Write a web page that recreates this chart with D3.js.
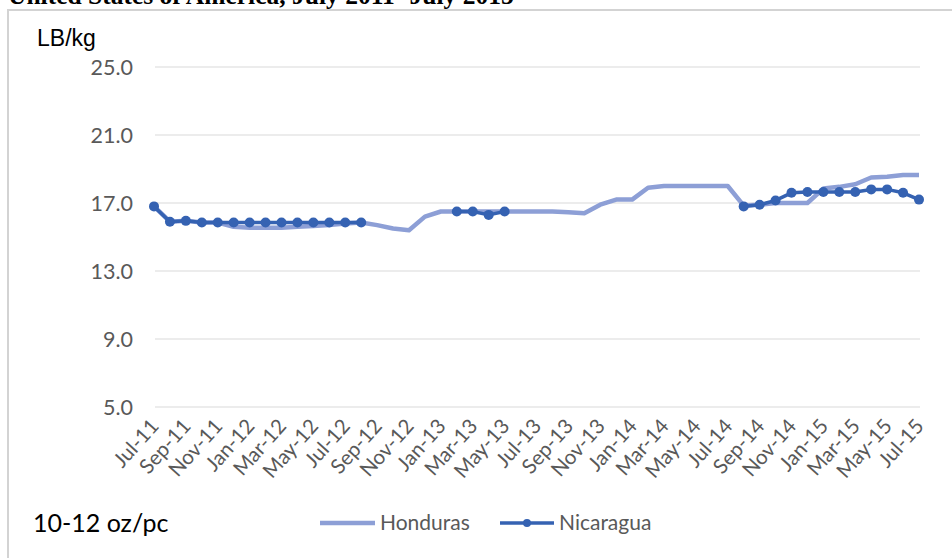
<!DOCTYPE html>
<html lang="en">
<head>
    <meta charset="UTF-8">
    <title>LB/kg 10-12 oz/pc</title>
    <script src="https://d3js.org/d3.v7.min.js"></script>
    <style>
        body {
            margin: 0;
            padding: 0;
            background-color: #fff;
        }
        svg {
            display: block;
        }
    </style>
</head>
<body>
    <svg id="chart" width="952" height="558"></svg>

    <script>
        // Months, Jul-11 .. Jul-15
        const months = [
            'Jul-11', 'Aug-11', 'Sep-11', 'Oct-11', 'Nov-11', 'Dec-11',
            'Jan-12', 'Feb-12', 'Mar-12', 'Apr-12', 'May-12', 'Jun-12',
            'Jul-12', 'Aug-12', 'Sep-12', 'Oct-12', 'Nov-12', 'Dec-12',
            'Jan-13', 'Feb-13', 'Mar-13', 'Apr-13', 'May-13', 'Jun-13',
            'Jul-13', 'Aug-13', 'Sep-13', 'Oct-13', 'Nov-13', 'Dec-13',
            'Jan-14', 'Feb-14', 'Mar-14', 'Apr-14', 'May-14', 'Jun-14',
            'Jul-14', 'Aug-14', 'Sep-14', 'Oct-14', 'Nov-14', 'Dec-14',
            'Jan-15', 'Feb-15', 'Mar-15', 'Apr-15', 'May-15', 'Jun-15',
            'Jul-15'
        ];

        const honduras = [
            16.8, 15.9, 15.95, 15.85, 15.85, 15.6, 15.55, 15.55, 15.55, 15.6, 15.65, 15.7, 15.8, 15.85,
            15.7, 15.5, 15.4, 16.2, 16.5,
            16.5, 16.5, 16.5, 16.5, 16.5, 16.5, 16.5, 16.45, 16.4,
            16.9, 17.2, 17.2, 17.9, 18.0, 18.0, 18.0, 18.0, 18.0,
            16.85, 16.9, 17.0, 17.0, 17.0, 17.85, 17.95, 18.1, 18.5, 18.55, 18.65, 18.65
        ];

        // null = no price reported that month
        const nicaragua = [
            16.8, 15.9, 15.95, 15.85, 15.85, 15.85, 15.85, 15.85, 15.85, 15.85, 15.85, 15.85, 15.85, 15.85,
            null, null, null, null, null,
            16.5, 16.5, 16.3, 16.5,
            null, null, null, null, null, null, null, null, null, null, null, null, null, null,
            16.8, 16.9, 17.15, 17.6, 17.65, 17.65, 17.65, 17.65, 17.8, 17.8, 17.6, 17.2
        ];

        const yTicks = [5, 9, 13, 17, 21, 25];

        const svg = d3.select('#chart');
        const font = 'Lato, "Open Sans", sans-serif';

        // Title of the page above, cut off by the crop
        svg.append('text')
            .attr('x', 8)
            .attr('y', 4)
            .attr('font-family', '"Liberation Serif", "Times New Roman", serif')
            .attr('font-weight', 'bold')
            .attr('font-size', 25.5)
            .attr('fill', '#000')
            .text('United States of America, July 2011- July 2015');

        // chart frame (top + left edges visible)
        svg.append('path')
            .attr('d', 'M8,558 L8,10 L952,10')
            .attr('fill', 'none')
            .attr('stroke', '#d3d3d3')
            .attr('stroke-width', 2);

        const x = d3.scalePoint()
            .domain(months)
            .range([154, 919]);

        const y = d3.scaleLinear()
            .domain([5, 25])
            .range([407, 67]);

        // gridlines
        svg.append('g')
            .selectAll('line')
            .data(yTicks)
            .enter()
            .append('line')
            .attr('x1', 155)
            .attr('x2', 920)
            .attr('y1', d => y(d))
            .attr('y2', d => y(d))
            .attr('stroke', '#d9d9d9')
            .attr('stroke-width', 1);

        // y labels
        svg.append('g')
            .selectAll('text')
            .data(yTicks)
            .enter()
            .append('text')
            .attr('x', 133)
            .attr('y', d => y(d))
            .attr('dy', '0.35em')
            .attr('text-anchor', 'end')
            .attr('font-family', font)
            .attr('font-size', 21.5)
            .attr('fill', '#595959')
            .text(d => d.toFixed(1));

        svg.append('text')
            .attr('x', 37)
            .attr('y', 46)
            .attr('font-family', '"Liberation Sans", Arial, sans-serif')
            .attr('font-size', 23)
            .attr('fill', '#000')
            .text('LB/kg');

        // x labels, every second month
        svg.append('g')
            .selectAll('text')
            .data(months.filter((m, i) => i % 2 === 0))
            .enter()
            .append('text')
            .attr('transform', d => 'translate(' + (x(d) + 6) + ',427) rotate(-48)')
            .attr('text-anchor', 'end')
            .attr('font-family', font)
            .attr('font-size', 20.5)
            .attr('fill', '#595959')
            .text(d => d);

        const line = d3.line()
            .defined(d => d.v !== null)
            .x(d => x(d.m))
            .y(d => y(d.v));

        const hData = months.map((m, i) => ({m: m, v: honduras[i]}));
        const nData = months.map((m, i) => ({m: m, v: nicaragua[i]}));

        svg.append('path')
            .datum(hData)
            .attr('d', line)
            .attr('fill', 'none')
            .attr('stroke', '#8d9fd6')
            .attr('stroke-width', 4.5)
            .attr('stroke-linejoin', 'round');

        svg.append('path')
            .datum(nData)
            .attr('d', line)
            .attr('fill', 'none')
            .attr('stroke', '#3562b2')
            .attr('stroke-width', 3.5)
            .attr('stroke-linejoin', 'round');

        svg.append('g')
            .selectAll('circle')
            .data(nData.filter(d => d.v !== null))
            .enter()
            .append('circle')
            .attr('cx', d => x(d.m))
            .attr('cy', d => y(d.v))
            .attr('r', 5)
            .attr('fill', '#3562b2');

        // legend
        const legY = 523;
        svg.append('line')
            .attr('x1', 320).attr('x2', 375)
            .attr('y1', legY).attr('y2', legY)
            .attr('stroke', '#8d9fd6')
            .attr('stroke-width', 4.5);
        svg.append('text')
            .attr('x', 380)
            .attr('y', legY)
            .attr('dy', '0.35em')
            .attr('font-family', font)
            .attr('font-size', 21)
            .attr('fill', '#595959')
            .text('Honduras');

        svg.append('line')
            .attr('x1', 500).attr('x2', 554)
            .attr('y1', legY).attr('y2', legY)
            .attr('stroke', '#3562b2')
            .attr('stroke-width', 3.5);
        svg.append('circle')
            .attr('cx', 527)
            .attr('cy', legY)
            .attr('r', 4)
            .attr('fill', '#3562b2');
        svg.append('text')
            .attr('x', 559)
            .attr('y', legY)
            .attr('dy', '0.35em')
            .attr('font-family', font)
            .attr('font-size', 21)
            .attr('fill', '#595959')
            .text('Nicaragua');

        svg.append('text')
            .attr('x', 33)
            .attr('y', 532)
            .attr('font-family', font)
            .attr('font-size', 25)
            .attr('fill', '#000')
            .text('10-12 oz/pc');
    </script>
</body>
</html>
